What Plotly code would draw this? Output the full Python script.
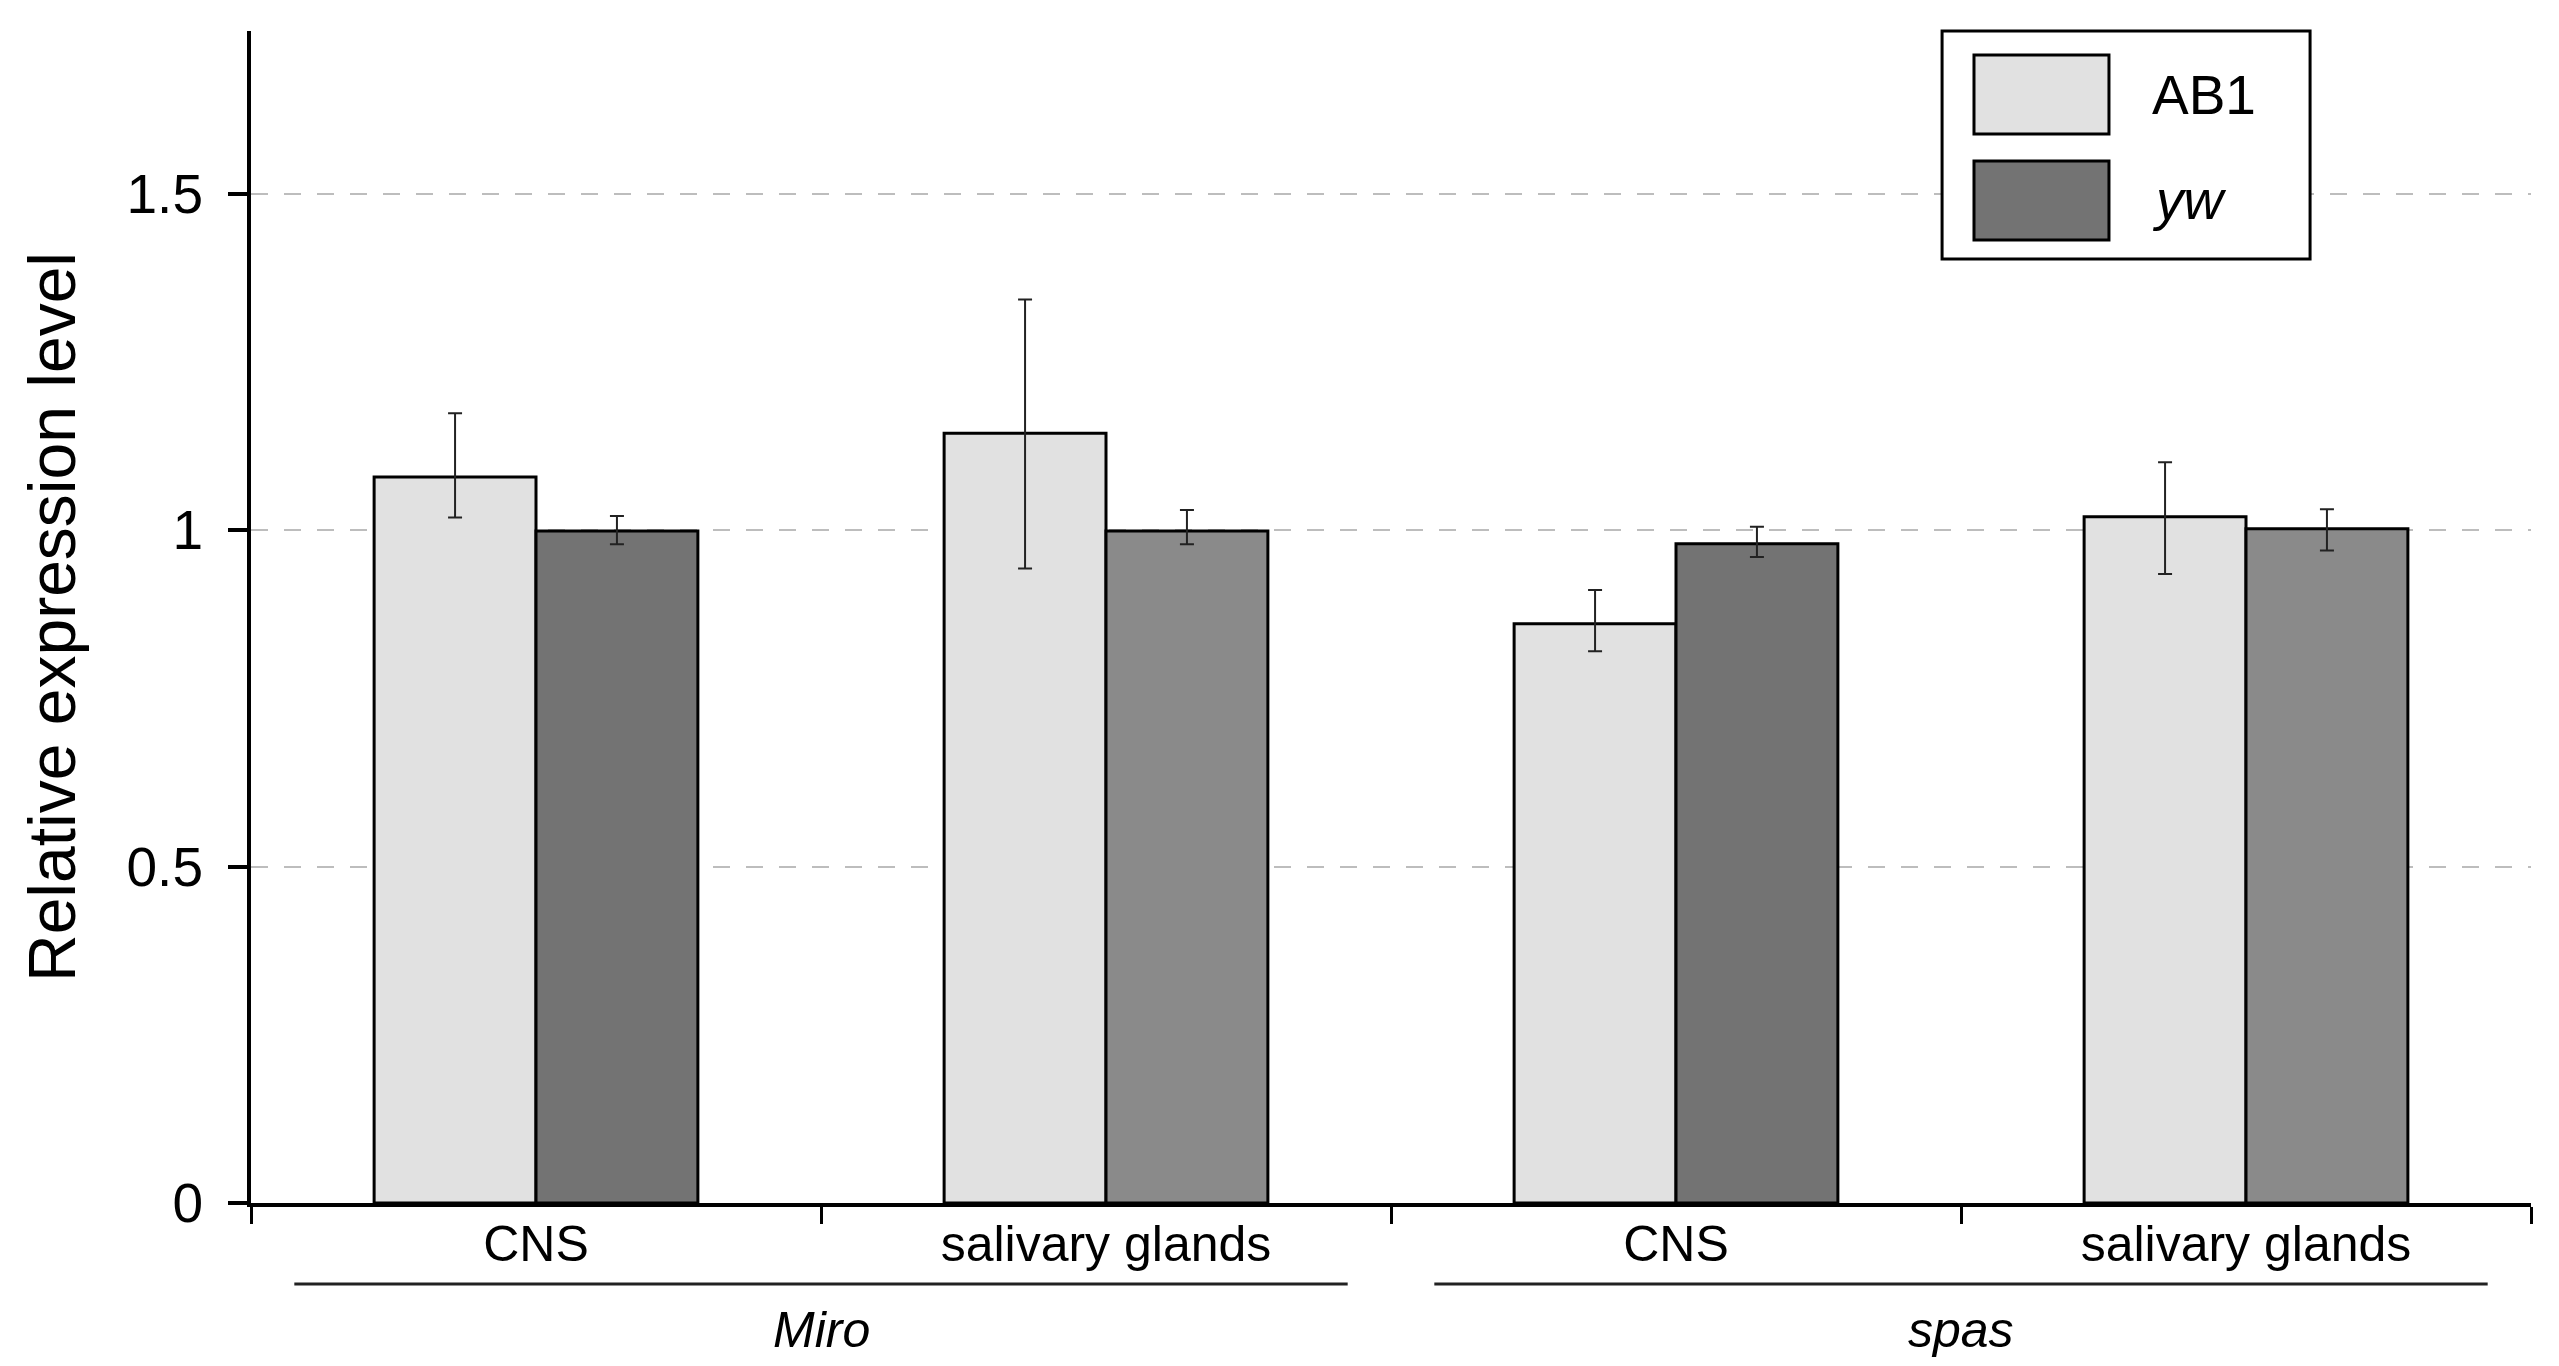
import plotly.graph_objects as go

# ---------------- data ----------------
genes = ["Miro", "Miro", "spas", "spas"]
tissues = ["CNS", "salivary glands", "CNS", "salivary glands"]
gene_groups = ["Miro", "spas"]
series_names = ["AB1", "yw"]

ab1_values = [1.079, 1.144, 0.861, 1.020]
ab1_err_plus = [0.095, 0.199, 0.050, 0.081]
ab1_err_minus = [0.060, 0.201, 0.041, 0.085]

yw_values = [0.999, 0.999, 0.980, 1.002]
yw_err_plus = [0.022, 0.031, 0.025, 0.029]
yw_err_minus = [0.020, 0.020, 0.020, 0.032]

y_ticks = [0, 0.5, 1, 1.5]
y_tick_labels = ["0", "0.5", "1", "1.5"]

# ---------------- styles ----------------
FONT = "Liberation Sans, Arial, Helvetica, sans-serif"
ab1_color = "#e1e1e1"
yw_colors = ["#737373", "#8a8a8a", "#737373", "#8a8a8a"]
legend_colors = ["#e1e1e1", "#737373"]

x_pos = list(range(len(tissues)))

fig = go.Figure()
fig.add_trace(go.Bar(
    x=x_pos, y=ab1_values, name=series_names[0],
    marker=dict(color=ab1_color, line=dict(color="black", width=3)),
    error_y=dict(type="data", array=ab1_err_plus, arrayminus=ab1_err_minus,
                 symmetric=False, color="#222222", thickness=2, width=7),
))
fig.add_trace(go.Bar(
    x=x_pos, y=yw_values, name=series_names[1],
    marker=dict(color=yw_colors, line=dict(color="black", width=3)),
    error_y=dict(type="data", array=yw_err_plus, arrayminus=yw_err_minus,
                 symmetric=False, color="#222222", thickness=2, width=7),
))

fig.update_layout(
    width=2559, height=1366,
    margin=dict(l=243, r=36, t=23, b=171),
    paper_bgcolor="white", plot_bgcolor="white",
    barmode="group", bargap=0.432, bargroupgap=0,
    showlegend=False,
    font=dict(family=FONT, color="black"),
)

boundaries = [p - 0.5 for p in x_pos] + [x_pos[-1] + 0.5]
fig.update_xaxes(
    range=[-0.5, len(tissues) - 0.5],
    tickmode="array", tickvals=x_pos, ticktext=tissues,
    ticks="", tickfont=dict(size=50, family=FONT, color="black"),
    ticklabelstandoff=-6,
    showline=True, linecolor="black", linewidth=4,
    showgrid=False, zeroline=False,
    minor=dict(tickmode="array", tickvals=boundaries, ticks="outside",
               ticklen=17, tickwidth=3, tickcolor="black", showgrid=False),
)
fig.update_yaxes(
    range=[0, 1.742],
    tickmode="array", tickvals=y_ticks, ticktext=y_tick_labels,
    ticks="outside", ticklen=19, tickwidth=4, tickcolor="black",
    tickfont=dict(size=55, family=FONT, color="black"),
    ticklabelstandoff=14,
    showline=True, linecolor="black", linewidth=4,
    showgrid=True, gridcolor="#bdbdbd", gridwidth=2, griddash="17px,16px",
    zeroline=False,
    title=dict(text="Relative expression level",
               font=dict(size=66, family=FONT, color="black"), standoff=30),
)

# group lines and italic gene labels below the axis
inset = 0.076
for g in gene_groups:
    idx = [i for i, gg in enumerate(genes) if gg == g]
    x0 = idx[0] - 0.5 + inset
    x1 = idx[-1] + 0.5 - inset
    fig.add_shape(type="line", xref="x", yref="paper", x0=x0, x1=x1,
                  y0=-0.0691, y1=-0.0691, line=dict(color="#222", width=3))
    fig.add_annotation(x=(idx[0] + idx[-1]) / 2, xref="x", y=-0.1084, yref="paper",
                       text=f"<i>{g}</i>", showarrow=False,
                       font=dict(size=50, family=FONT, color="black"),
                       xanchor="center", yanchor="middle")

# custom legend box (large swatches)
fig.add_shape(type="rect", xref="paper", yref="paper",
              x0=0.7417, x1=0.9031, y0=0.8055, y1=1.0,
              line=dict(color="black", width=3), fillcolor="white", layer="above")
sw_y = [(0.9121, 0.9795), (0.8217, 0.8891)]
for name, col, (y0, y1) in zip(series_names, legend_colors, sw_y):
    fig.add_shape(type="rect", xref="paper", yref="paper",
                  x0=0.7557, x1=0.8149, y0=y0, y1=y1,
                  line=dict(color="black", width=3), fillcolor=col, layer="above")
    label = name if name == "AB1" else f"<i>{name}</i>"
    fig.add_annotation(x=0.8329, xref="paper", y=(y0 + y1) / 2, yref="paper",
                       text=label, showarrow=False, xanchor="left", yanchor="middle",
                       font=dict(size=55, family=FONT, color="black"))

fig.write_html("out.html")
